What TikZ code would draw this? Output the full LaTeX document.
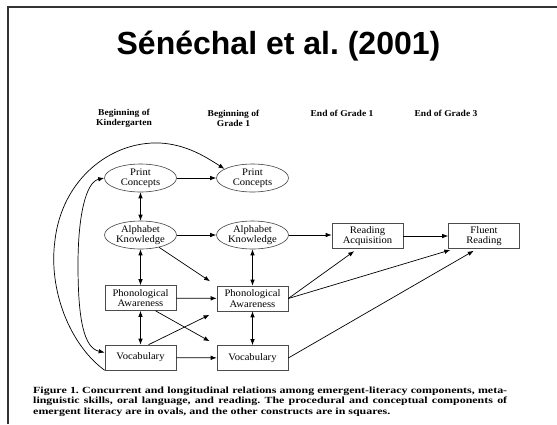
\documentclass[tikz,border=0pt]{standalone}
\usepackage{fontspec}
\setmainfont{Liberation Serif}
\newfontfamily\titlefont{Liberation Sans}
\newfontfamily\capfont[FakeStretch=1.27]{Liberation Serif}
\newfontfamily\txtfont[FakeStretch=1.06]{Liberation Serif}
\usetikzlibrary{shapes.geometric,arrows.meta}
\frenchspacing
\begin{document}
\begin{tikzpicture}[x=1pt,y=-1pt,
  oval/.style={ellipse, draw=black!75, line width=0.6pt, minimum width=72pt, minimum height=28pt, inner sep=0pt, align=center, font=\txtfont\fontsize{10}{10.5}\selectfont},
  sq/.style={rectangle, draw=black!70, line width=0.6pt, minimum width=71pt, minimum height=25pt, inner sep=0pt, align=center, font=\txtfont\fontsize{10}{10.5}\selectfont},
  arr/.style={-{Latex[length=6pt,width=4.5pt]}, line width=0.7pt},
  darr/.style={{Latex[length=6pt,width=4.5pt]}-{Latex[length=6pt,width=4.5pt]}, line width=0.7pt},
  hdr/.style={font=\txtfont\bfseries\fontsize{9}{10}\selectfont, align=center, inner sep=0pt},
  capline/.style={anchor=base west, inner sep=0pt, font=\capfont\bfseries\fontsize{9.4}{10.7}\selectfont},
]
\useasboundingbox (0,0) rectangle (557,424);
\fill[white] (0,0) rectangle (557,424);
\draw[line width=1.2pt, black!80] (8,424) -- (8,7) -- (557,7);

\node[font=\titlefont\bfseries\fontsize{32}{36}\selectfont, anchor=base, inner sep=0pt] (title) at (278.5,54) {Sénéchal et al. (2001)};

\node[hdr] (h1) at (124,118) {Beginning of\\Kindergarten};
\node[hdr] (h2) at (233.5,118) {Beginning of\\Grade 1};
\node[hdr] (h3) at (342,113) {End of Grade 1};
\node[hdr] (h4) at (446,113) {End of Grade 3};

\node[oval] (pck) at (140.5,178) {Print\\Concepts};
\node[oval] (pcg) at (252.5,178) {Print\\Concepts};
\node[oval] (akk) at (140.5,235) {Alphabet\\Knowledge};
\node[oval] (akg) at (252.5,235) {Alphabet\\Knowledge};
\node[sq] (ra) at (367.5,236) {Reading\\Acquisition};
\node[sq] (fr) at (484,236) {Fluent\\Reading};
\node[sq] (pak) at (140.5,298) {Phonological\\Awareness};
\node[sq] (pag) at (252.5,298.5) {Phonological\\Awareness};
\node[sq] (vok) at (140.5,357.5) {Vocabulary};
\node[sq] (vog) at (252.5,358) {Vocabulary};

% horizontal
\draw[arr] (pck) -- (pcg);
\draw[arr] (akk) -- (akg);
\draw[arr] (akg.east) -- (ra.west |- akg.east);
\draw[arr] (ra) -- (fr);
\draw[arr] (pak) -- (pag);
\draw[arr] (vok) -- (vog);
% vertical double
\draw[darr] (pck) -- (akk);
\draw[darr] (akk) -- (pak);
\draw[darr] (pak) -- (vok);
\draw[darr] (akg) -- (pag);
\draw[darr] (pag) -- (vog);
% diagonals
\draw[arr, shorten >=8pt] (akk) -- (pag.north west);
\draw[arr, shorten >=8pt] ([xshift=15pt]pak.south) -- (vog.north west);
\draw[arr, shorten >=8pt] ([xshift=8pt]vok.north) -- (pag.south west);
\draw[arr, shorten >=4pt] (pag.east) -- ([xshift=-10pt]ra.south);
\draw[arr, shorten >=4pt] (pag.east) -- ([xshift=6pt]fr.south west);
\draw[arr, shorten >=4pt] (vog.east) -- ([xshift=29pt]fr.south west);
% curves
\draw[arr] (vok.south west) .. controls (70,345) and (48,290) .. (55,240)
  .. controls (62,180) and (110,141) .. (160,143)
  .. controls (185,144.5) and (203,155) .. (pcg.162);
\draw[darr] (pck.west) .. controls (86,182) and (78,215) .. (78,265)
  .. controls (78,320) and (84,348) .. ([yshift=5pt]vok.west);

% caption
\node[capline] (c1) at (33,393) {\makebox[474pt][s]{Figure 1. Concurrent and longitudinal relations among emergent-literacy components, meta-}};
\node[capline] (c2) at (33,403.7) {\makebox[474pt][s]{linguistic skills, oral language, and reading. The procedural and conceptual components of}};
\node[capline] (c3) at (33,414.4) {emergent literacy are in ovals, and the other constructs are in squares.};
\end{tikzpicture}
\end{document}
